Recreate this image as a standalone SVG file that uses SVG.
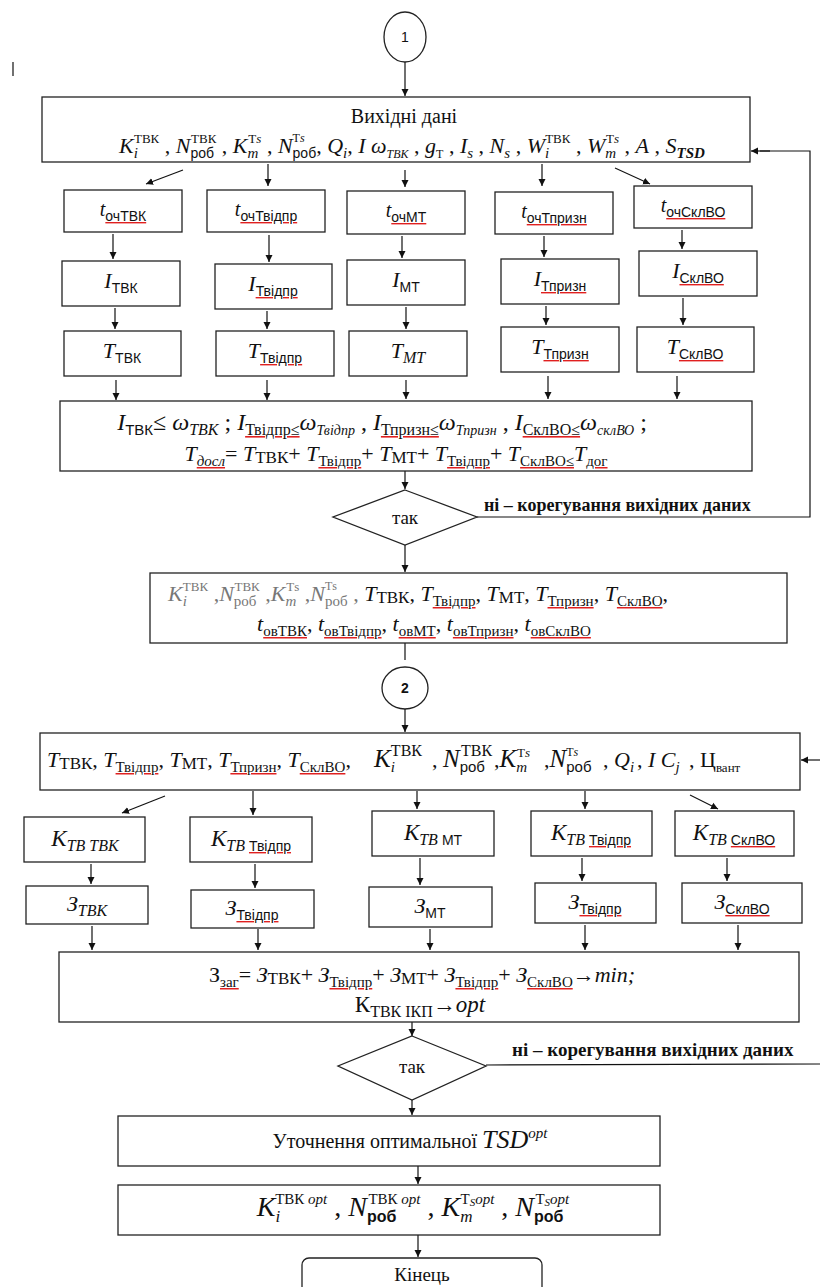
<svg xmlns="http://www.w3.org/2000/svg" width="820" height="1287" viewBox="0 0 820 1287">
<style>
.bx{fill:#fff;stroke:#222;stroke-width:1.3}
.ln{fill:none;stroke:#111;stroke-width:1.2}
.ar{fill:none;stroke:#111;stroke-width:1.2;marker-end:url(#ah)}
.f{font-family:"Liberation Serif","DejaVu Serif",serif;fill:#111}
.a{font-family:"Liberation Sans","DejaVu Sans",sans-serif}
.it{font-style:italic}
.sbi{font-size:15px;baseline-shift:-5px;font-style:italic}
.sbs{font-size:15px;baseline-shift:-5px}
.sa{font-family:"Liberation Sans","DejaVu Sans",sans-serif;font-size:14px;baseline-shift:-5px}
.sp{font-size:13px;baseline-shift:10px}
.spi{font-size:13px;baseline-shift:10px;font-style:italic}
.w{text-decoration:underline;fill:#e02020}
.k{fill:#111}
.g{fill:#777}
.g .k{fill:#777}
</style>
<defs>
<marker id="ah" markerWidth="8" markerHeight="8" refX="7" refY="4" orient="auto" markerUnits="userSpaceOnUse"><path d="M0,0.5 L7,4 L0,7.5 z" fill="#111"/></marker>
</defs>

<g id="connectors">
<line class="ln" x1="13" y1="62" x2="13" y2="76" stroke="#999"/>
<line class="ar" x1="405" y1="62" x2="405" y2="96"/>
<line class="ar" x1="183" y1="170" x2="146" y2="184"/>
<line class="ar" x1="268" y1="164" x2="268" y2="186"/>
<line class="ar" x1="405" y1="170" x2="405" y2="187"/>
<line class="ar" x1="542" y1="164" x2="542" y2="186"/>
<line class="ar" x1="615" y1="168" x2="650" y2="184"/>
<line class="ar" x1="113" y1="234" x2="113" y2="259"/>
<line class="ar" x1="269" y1="235" x2="269" y2="262"/>
<line class="ar" x1="402" y1="236" x2="402" y2="258"/>
<line class="ar" x1="544" y1="236" x2="544" y2="257"/>
<line class="ar" x1="682" y1="230" x2="682" y2="249"/>
<line class="ar" x1="115" y1="308" x2="115" y2="329"/>
<line class="ar" x1="267" y1="311" x2="267" y2="329"/>
<line class="ar" x1="406" y1="307" x2="406" y2="329"/>
<line class="ar" x1="546" y1="306" x2="546" y2="325"/>
<line class="ar" x1="683" y1="298" x2="683" y2="325"/>
<line class="ar" x1="116" y1="380" x2="116" y2="400"/>
<line class="ar" x1="267" y1="380" x2="267" y2="400"/>
<line class="ar" x1="406" y1="380" x2="406" y2="399"/>
<line class="ar" x1="548" y1="376" x2="548" y2="399"/>
<line class="ar" x1="677" y1="376" x2="677" y2="399"/>
<line class="ar" x1="405" y1="471" x2="405" y2="489"/>
<polyline class="ln" points="477,517 810,517 810,151 760,151"/>
<line class="ar" x1="770" y1="151" x2="751" y2="151"/>
<line class="ar" x1="405" y1="545" x2="405" y2="572"/>
<line class="ln" x1="405" y1="643" x2="405" y2="660"/>
<line class="ar" x1="405" y1="709" x2="405" y2="732"/>
<line class="ar" x1="820" y1="760" x2="801" y2="760"/>
<line class="ar" x1="165" y1="796" x2="122" y2="813"/>
<line class="ar" x1="253" y1="791" x2="253" y2="815"/>
<line class="ar" x1="417" y1="791" x2="417" y2="809"/>
<line class="ar" x1="585" y1="791" x2="585" y2="809"/>
<line class="ar" x1="690" y1="795" x2="718" y2="809"/>
<line class="ar" x1="91" y1="864" x2="91" y2="884"/>
<line class="ar" x1="255" y1="864" x2="255" y2="888"/>
<line class="ar" x1="420" y1="858" x2="420" y2="885"/>
<line class="ar" x1="582" y1="858" x2="582" y2="881"/>
<line class="ar" x1="727" y1="858" x2="727" y2="881"/>
<line class="ar" x1="92" y1="926" x2="92" y2="950"/>
<line class="ar" x1="258" y1="929" x2="258" y2="950"/>
<line class="ar" x1="430" y1="929" x2="430" y2="950"/>
<line class="ar" x1="585" y1="925" x2="585" y2="950"/>
<line class="ar" x1="738" y1="925" x2="738" y2="950"/>
<line class="ar" x1="412" y1="1022" x2="412" y2="1036"/>
<line class="ln" x1="486" y1="1065" x2="820" y2="1064"/>
<line class="ar" x1="412" y1="1100" x2="412" y2="1115"/>
<line class="ar" x1="418" y1="1166" x2="418" y2="1184"/>
<line class="ar" x1="418" y1="1235" x2="418" y2="1257"/>
</g>

<g id="start1">
<ellipse cx="405" cy="37" rx="21" ry="25" fill="#fff" stroke="#222" stroke-width="1.3"/>
<text class="f a" x="405" y="42" font-size="14" text-anchor="middle">1</text>
</g>

<g id="input1">
<rect class="bx" x="42" y="97" width="708" height="65"/>
<text class="f" x="404" y="123" font-size="20" text-anchor="middle">Вихідні дані</text>
<text class="f" x="412" y="153" font-size="22" text-anchor="middle"><tspan class="it">K</tspan><tspan class="sbi">i</tspan><tspan class="sp" dx="-4">ТВК</tspan> , <tspan class="it">N</tspan><tspan class="sa">роб</tspan><tspan class="sp" dx="-23">ТВК</tspan> , <tspan class="it">K</tspan><tspan class="sbi">m</tspan><tspan class="sp" dx="-10">Т</tspan><tspan class="spi">s</tspan> , <tspan class="it">N</tspan><tspan class="sp" style="font-size:12px;baseline-shift:11px">Т</tspan><tspan class="spi" style="font-size:12px;baseline-shift:11px">s</tspan><tspan class="sa" dx="-12">роб</tspan>, <tspan class="it">Q</tspan><tspan class="sbi">i</tspan>, <tspan class="it">I ω</tspan><tspan class="sbi" style="font-size:12px">ТВК</tspan> , <tspan class="it">g</tspan><tspan class="sbs" style="font-size:12px">Т</tspan> , <tspan class="it">I</tspan><tspan class="sbi">s</tspan> , <tspan class="it">N</tspan><tspan class="sbi">s</tspan> , <tspan class="it">W</tspan><tspan class="sbi">i</tspan><tspan class="sp" dx="-4">ТВК</tspan> , <tspan class="it">W</tspan><tspan class="sbi">m</tspan><tspan class="sp" dx="-10">Т</tspan><tspan class="spi">s</tspan> , <tspan class="it">A</tspan> , <tspan class="it">S</tspan><tspan class="sbi" font-weight="bold">TSD</tspan></text>
</g>

<g id="t_tvk"><rect class="bx" x="64" y="190" width="118" height="42"/><text class="f" x="123" y="216" text-anchor="middle"><tspan class="it" font-size="20">t</tspan><tspan class="sa w"><tspan class="k">очТВК</tspan></tspan></text></g>
<g id="t_tvidpr"><rect class="bx" x="207" y="190" width="118" height="42"/><text class="f" x="266" y="216" text-anchor="middle"><tspan class="it" font-size="20">t</tspan><tspan class="sa w"><tspan class="k">очТвідпр</tspan></tspan></text></g>
<g id="t_mt"><rect class="bx" x="347" y="191" width="118" height="43"/><text class="f" x="406" y="217" text-anchor="middle"><tspan class="it" font-size="20">t</tspan><tspan class="sa w"><tspan class="k">очМТ</tspan></tspan></text></g>
<g id="t_tpryzn"><rect class="bx" x="495" y="192" width="118" height="42"/><text class="f" x="554" y="218" text-anchor="middle"><tspan class="it" font-size="20">t</tspan><tspan class="sa w"><tspan class="k">очТпризн</tspan></tspan></text></g>
<g id="t_sklvo"><rect class="bx" x="634" y="186" width="118" height="42"/><text class="f" x="693" y="212" text-anchor="middle"><tspan class="it" font-size="20">t</tspan><tspan class="sa w"><tspan class="k">очСклВО</tspan></tspan></text></g>

<g id="i_tvk"><rect class="bx" x="62" y="261" width="118" height="45"/><text class="f" x="121" y="288" text-anchor="middle"><tspan class="it" font-size="22">I</tspan><tspan class="sa">ТВК</tspan></text></g>
<g id="i_tvidpr"><rect class="bx" x="215" y="264" width="117" height="45"/><text class="f" x="273" y="291" text-anchor="middle"><tspan class="it" font-size="22">I</tspan><tspan class="sa w"><tspan class="k">Твідпр</tspan></tspan></text></g>
<g id="i_mt"><rect class="bx" x="347" y="260" width="118" height="45"/><text class="f" x="406" y="287" text-anchor="middle"><tspan class="it" font-size="22">I</tspan><tspan class="sa">МТ</tspan></text></g>
<g id="i_tpryzn"><rect class="bx" x="501" y="259" width="118" height="45"/><text class="f" x="560" y="286" text-anchor="middle"><tspan class="it" font-size="22">I</tspan><tspan class="sa w"><tspan class="k">Тпризн</tspan></tspan></text></g>
<g id="i_sklvo"><rect class="bx" x="639" y="251" width="118" height="45"/><text class="f" x="698" y="278" text-anchor="middle"><tspan class="it" font-size="22">I</tspan><tspan class="sa w"><tspan class="k">СклВО</tspan></tspan></text></g>

<g id="T_tvk"><rect class="bx" x="64" y="331" width="117" height="45"/><text class="f" x="122" y="358" text-anchor="middle"><tspan class="it" font-size="22">T</tspan><tspan class="sa">ТВК</tspan></text></g>
<g id="T_tvidpr"><rect class="bx" x="216" y="331" width="118" height="45"/><text class="f" x="275" y="358" text-anchor="middle"><tspan class="it" font-size="22">T</tspan><tspan class="sa w"><tspan class="k">Твідпр</tspan></tspan></text></g>
<g id="T_mt"><rect class="bx" x="349" y="331" width="118" height="45"/><text class="f" x="408" y="358" text-anchor="middle"><tspan class="it" font-size="22">T</tspan><tspan class="sbi" style="font-size:16px">МТ</tspan></text></g>
<g id="T_tpryzn"><rect class="bx" x="501" y="327" width="118" height="45"/><text class="f" x="560" y="354" text-anchor="middle"><tspan class="it" font-size="22">T</tspan><tspan class="sa w"><tspan class="k">Тпризн</tspan></tspan></text></g>
<g id="T_sklvo"><rect class="bx" x="637" y="327" width="117" height="45"/><text class="f" x="695" y="354" text-anchor="middle"><tspan class="it" font-size="22">T</tspan><tspan class="sa w"><tspan class="k">СклВО</tspan></tspan></text></g>

<g id="constraints">
<rect class="bx" x="60" y="401" width="692" height="70"/>
<text class="f" x="382" y="430" font-size="24" text-anchor="middle"><tspan class="it" font-size="24">I</tspan><tspan class="sa" style="font-size:15px">ТВК</tspan>≤ <tspan class="it">ω</tspan><tspan class="sbi" style="font-size:16px">ТВК</tspan> ; <tspan class="it">I</tspan><tspan class="sbs w" style="font-size:16px"><tspan class="k">Твідпр≤</tspan></tspan><tspan class="it">ω</tspan><tspan class="sbi" style="font-size:14px">Твідпр</tspan> , <tspan class="it">I</tspan><tspan class="sbs w" style="font-size:16px"><tspan class="k">Тпризн≤</tspan></tspan><tspan class="it">ω</tspan><tspan class="sbi" style="font-size:14px">Тпризн</tspan> , <tspan class="it">I</tspan><tspan class="sbs w" style="font-size:16px"><tspan class="k">СклВО≤</tspan></tspan><tspan class="it">ω</tspan><tspan class="sbi" style="font-size:14px">склВО</tspan> ;</text>
<text class="f" x="396" y="461" font-size="22" text-anchor="middle"><tspan class="it">T</tspan><tspan class="sbi w"><tspan class="k">досл</tspan></tspan>= <tspan class="it">T</tspan><tspan class="sbs" style="font-size:17px;baseline-shift:-2px">ТВК</tspan>+ <tspan class="it">T</tspan><tspan class="sbs w"><tspan class="k">Твідпр</tspan></tspan>+ <tspan class="it">T</tspan><tspan class="sbs" style="font-size:17px;baseline-shift:-2px">МТ</tspan>+ <tspan class="it">T</tspan><tspan class="sbs w"><tspan class="k">Твідпр</tspan></tspan>+ <tspan class="it">T</tspan><tspan class="sbs w"><tspan class="k">СклВО≤</tspan></tspan><tspan class="it">T</tspan><tspan class="sbs w"><tspan class="k">дог</tspan></tspan></text>
</g>

<g id="decision1">
<polygon class="bx" points="405,490 477,517 405,545 333,517"/>
<text class="f" x="405" y="524" font-size="19" text-anchor="middle">так</text>
<text class="f" x="484" y="511" font-size="18" font-weight="bold">ні – корегування вихідних даних</text>
</g>

<g id="results1">
<rect class="bx" x="150" y="573" width="637" height="70"/>
<text class="f" x="168" y="601" font-size="22"><tspan class="g"><tspan class="it">K</tspan><tspan class="sbi">i</tspan><tspan class="sp" dx="-4">ТВК</tspan> ,<tspan class="it">N</tspan><tspan class="sbs">роб</tspan><tspan class="sp" dx="-22">ТВК</tspan> ,<tspan class="it">K</tspan><tspan class="sbi">m</tspan><tspan class="sp" dx="-10">Тs</tspan> ,<tspan class="it">N</tspan><tspan class="sp" style="font-size:12px;baseline-shift:11px">Тs</tspan><tspan class="sbs" dx="-12">роб</tspan> , </tspan><tspan class="it">T</tspan><tspan class="sbs" style="font-size:17px;baseline-shift:-2px">ТВК</tspan>, <tspan class="it">T</tspan><tspan class="sbs w"><tspan class="k">Твідпр</tspan></tspan>, <tspan class="it">T</tspan><tspan class="sbs" style="font-size:17px;baseline-shift:-2px">МТ</tspan>, <tspan class="it">T</tspan><tspan class="sbs w"><tspan class="k">Тпризн</tspan></tspan>, <tspan class="it">T</tspan><tspan class="sbs w"><tspan class="k">СклВО</tspan></tspan>,</text>
<text class="f" x="424" y="631" font-size="22" text-anchor="middle"><tspan class="it">t</tspan><tspan class="sbs w"><tspan class="k">овТВК</tspan></tspan>, <tspan class="it">t</tspan><tspan class="sbs w"><tspan class="k">овТвідпр</tspan></tspan>, <tspan class="it">t</tspan><tspan class="sbs w"><tspan class="k">овМТ</tspan></tspan>, <tspan class="it">t</tspan><tspan class="sbs w"><tspan class="k">овТпризн</tspan></tspan>, <tspan class="it">t</tspan><tspan class="sbs w"><tspan class="k">овСклВО</tspan></tspan></text>
</g>

<g id="connector2">
<ellipse cx="405" cy="688" rx="23" ry="21" fill="#fff" stroke="#222" stroke-width="1.3"/>
<text class="f a" x="405" y="693" font-size="14" font-weight="bold" text-anchor="middle">2</text>
</g>

<g id="input2">
<rect class="bx" x="40" y="733" width="760" height="57"/>
<text class="f" x="47" y="767" font-size="22"><tspan class="it">T</tspan><tspan class="sbs" style="font-size:17px;baseline-shift:-2px">ТВК</tspan>, <tspan class="it">T</tspan><tspan class="sbs w"><tspan class="k">Твідпр</tspan></tspan>, <tspan class="it">T</tspan><tspan class="sbs" style="font-size:17px;baseline-shift:-2px">МТ</tspan>, <tspan class="it">T</tspan><tspan class="sbs w"><tspan class="k">Тпризн</tspan></tspan>, <tspan class="it">T</tspan><tspan class="sbs w"><tspan class="k">СклВО</tspan></tspan>,</text>
<text class="f" x="374" y="767" font-size="22"><tspan class="it" font-size="25">K</tspan><tspan class="sbi">i</tspan><tspan class="sp" style="font-size:16px;baseline-shift:11px" dx="-4">ТВК</tspan></text>
<text class="f" x="432" y="767" font-size="22">, <tspan class="it" font-size="25">N</tspan><tspan class="sa" style="font-size:15px">роб</tspan><tspan class="sp" style="font-size:16px;baseline-shift:11px" dx="-24">ТВК</tspan></text>
<text class="f" x="494" y="767" font-size="22">,<tspan class="it" font-size="25">K</tspan><tspan class="sbi">m</tspan><tspan class="sp" dx="-10">Т</tspan><tspan class="spi">s</tspan></text>
<text class="f" x="544" y="767" font-size="22">,<tspan class="it" font-size="25">N</tspan><tspan class="sp" style="font-size:12px;baseline-shift:11px">Т</tspan><tspan class="spi" style="font-size:12px;baseline-shift:11px">s</tspan><tspan class="sa" style="font-size:15px" dx="-12">роб</tspan></text>
<text class="f" x="603" y="767" font-size="22">, <tspan class="it">Q</tspan><tspan class="sbi">i</tspan></text>
<text class="f" x="637" y="767" font-size="22">, <tspan class="it">I C</tspan><tspan class="sbi">j</tspan></text>
<text class="f" x="689" y="767" font-size="22">, Ц<tspan class="sbs" style="font-size:13px">вант</tspan></text>
</g>

<g id="k_tvk"><rect class="bx" x="24" y="817" width="121" height="45"/><text class="f" x="85" y="846" text-anchor="middle"><tspan class="it" font-size="23">K</tspan><tspan class="sbi" style="font-size:16px">ТВ ТВК</tspan></text></g>
<g id="k_tvidpr"><rect class="bx" x="190" y="817" width="122" height="45"/><text class="f" x="251" y="846" text-anchor="middle"><tspan class="it" font-size="23">K</tspan><tspan class="sbi" style="font-size:16px">ТВ </tspan><tspan class="sa w"><tspan class="k">Твідпр</tspan></tspan></text></g>
<g id="k_mt"><rect class="bx" x="372" y="811" width="122" height="45"/><text class="f" x="433" y="840" text-anchor="middle"><tspan class="it" font-size="23">K</tspan><tspan class="sbi" style="font-size:16px">ТВ </tspan><tspan class="sa">МТ</tspan></text></g>
<g id="k_tvidpr2"><rect class="bx" x="531" y="811" width="121" height="45"/><text class="f" x="591" y="840" text-anchor="middle"><tspan class="it" font-size="23">K</tspan><tspan class="sbi" style="font-size:16px">ТВ </tspan><tspan class="sa w"><tspan class="k">Твідпр</tspan></tspan></text></g>
<g id="k_sklvo"><rect class="bx" x="675" y="811" width="119" height="45"/><text class="f" x="734" y="840" text-anchor="middle"><tspan class="it" font-size="23">K</tspan><tspan class="sbi" style="font-size:16px">ТВ </tspan><tspan class="sa w"><tspan class="k">СклВО</tspan></tspan></text></g>

<g id="z_tvk"><rect class="bx" x="26" y="886" width="122" height="38"/><text class="f" x="87" y="911" text-anchor="middle"><tspan class="it" font-size="22">З</tspan><tspan class="sbi" style="font-size:16px">ТВК</tspan></text></g>
<g id="z_tvidpr"><rect class="bx" x="191" y="890" width="123" height="38"/><text class="f" x="252" y="915" text-anchor="middle"><tspan class="it" font-size="22">З</tspan><tspan class="sa w"><tspan class="k">Твідпр</tspan></tspan></text></g>
<g id="z_mt"><rect class="bx" x="369" y="887" width="123" height="40"/><text class="f" x="430" y="913" text-anchor="middle"><tspan class="it" font-size="22">З</tspan><tspan class="sa">МТ</tspan></text></g>
<g id="z_tvidpr2"><rect class="bx" x="535" y="883" width="121" height="40"/><text class="f" x="595" y="909" text-anchor="middle"><tspan class="it" font-size="22">З</tspan><tspan class="sa w"><tspan class="k">Твідпр</tspan></tspan></text></g>
<g id="z_sklvo"><rect class="bx" x="682" y="883" width="120" height="40"/><text class="f" x="742" y="909" text-anchor="middle"><tspan class="it" font-size="22">З</tspan><tspan class="sa w"><tspan class="k">СклВО</tspan></tspan></text></g>

<g id="sum">
<rect class="bx" x="59" y="952" width="740" height="70"/>
<text class="f" x="422" y="982" font-size="22" text-anchor="middle">З<tspan class="sbs w"><tspan class="k">заг</tspan></tspan>= <tspan class="it">З</tspan><tspan class="sbs" style="font-size:17px;baseline-shift:-2px">ТВК</tspan>+ <tspan class="it">З</tspan><tspan class="sbs w"><tspan class="k">Твідпр</tspan></tspan>+ <tspan class="it">З</tspan><tspan class="sbs" style="font-size:17px;baseline-shift:-2px">МТ</tspan>+ <tspan class="it">З</tspan><tspan class="sbs w"><tspan class="k">Твідпр</tspan></tspan>+ <tspan class="it">З</tspan><tspan class="sbs w"><tspan class="k">СклВО</tspan></tspan>→<tspan class="it">min;</tspan></text>
<text class="f" x="420" y="1012" font-size="23" text-anchor="middle">К<tspan class="sbs" style="font-size:16px">ТВК ІКП</tspan>→<tspan class="it">opt</tspan></text>
</g>

<g id="decision2">
<polygon class="bx" points="412,1036 486,1066 412,1100 338,1066"/>
<text class="f" x="412" y="1073" font-size="19" text-anchor="middle">так</text>
<text class="f" x="512" y="1056" font-size="19" font-weight="bold">ні – корегування вихідних даних</text>
</g>

<g id="refine">
<rect class="bx" x="118" y="1116" width="542" height="50"/>
<text class="f" x="410" y="1148" font-size="20" text-anchor="middle">Уточнення оптимальної <tspan class="it" font-size="26">TSD</tspan><tspan class="spi" style="font-size:15px;baseline-shift:10px">opt</tspan></text>
</g>

<g id="optimum">
<rect class="bx" x="118" y="1185" width="542" height="50"/>
<text class="f" x="413" y="1216" font-size="28" text-anchor="middle"><tspan class="it">K</tspan><tspan class="sbi" style="font-size:17px;baseline-shift:-6px">i</tspan><tspan class="sp" style="font-size:15px;baseline-shift:12px" dx="-5">ТВК </tspan><tspan class="spi" style="font-size:15px;baseline-shift:12px">opt</tspan> , <tspan class="it">N</tspan><tspan class="sa" style="font-size:16px;baseline-shift:-6px;font-weight:bold">роб</tspan><tspan class="sp" style="font-size:15px;baseline-shift:12px" dx="-28">ТВК </tspan><tspan class="spi" style="font-size:15px;baseline-shift:12px">opt</tspan> , <tspan class="it">K</tspan><tspan class="sbi" style="font-size:17px;baseline-shift:-6px">m</tspan><tspan class="sp" style="font-size:15px;baseline-shift:12px" dx="-12">Т</tspan><tspan class="spi" style="font-size:11px;baseline-shift:10px">S</tspan><tspan class="spi" style="font-size:15px;baseline-shift:12px">opt</tspan> , <tspan class="it">N</tspan><tspan class="sa" style="font-size:16px;baseline-shift:-6px;font-weight:bold">роб</tspan><tspan class="sp" style="font-size:15px;baseline-shift:12px" dx="-28">Т</tspan><tspan class="spi" style="font-size:11px;baseline-shift:10px">S</tspan><tspan class="spi" style="font-size:15px;baseline-shift:12px">opt</tspan></text>
</g>

<g id="end">
<rect class="bx" x="302" y="1258" width="240" height="40" rx="7"/>
<text class="f" x="422" y="1281" font-size="19" text-anchor="middle">Кінець</text>
</g>
</svg>
